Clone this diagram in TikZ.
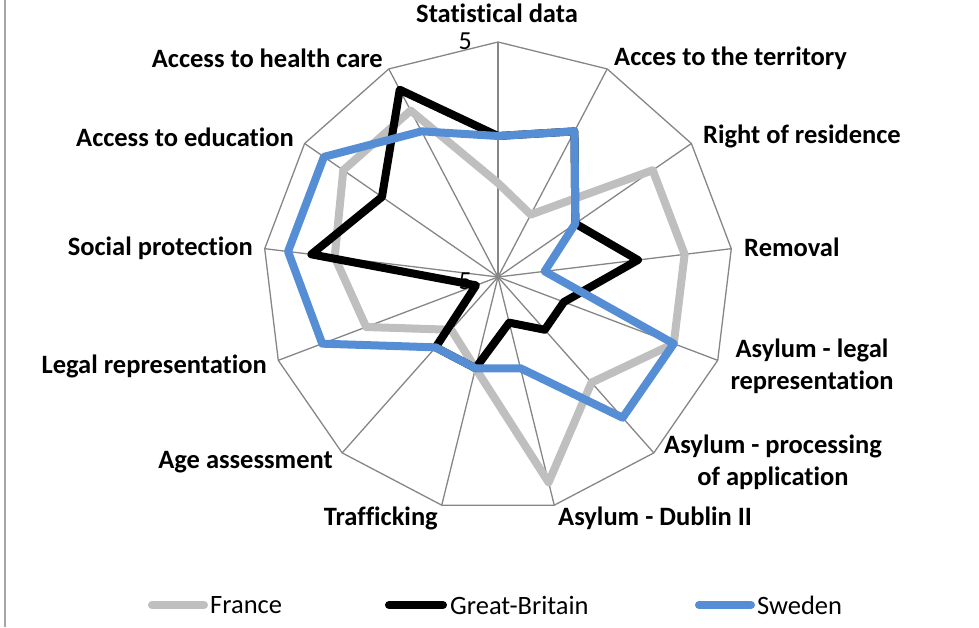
\documentclass[tikz,border=0pt]{standalone}
\usepackage{fontspec}
\setmainfont{Carlito}[Ligatures=NoCommon]
\definecolor{gridgray}{RGB}{134,134,134}
\definecolor{framegray}{RGB}{166,166,166}
\definecolor{frgray}{RGB}{191,191,191}
\definecolor{seblue}{RGB}{85,142,213}
\tikzset{
  spoke/.style={draw=gridgray, line width=1.3},
  series/.style={line width=8, line join=round},
  france/.style={series, draw=frgray},
  britain/.style={series, draw=black},
  sweden/.style={series, draw=seblue},
  keyline/.style={line width=8, line cap=round},
  catlabel/.style={font=\fontsize{26.5}{32}\selectfont\bfseries, inner sep=0pt},
  keytext/.style={font=\fontsize{26.5}{30}\selectfont, inner sep=0pt, anchor=west},
  ticklabel/.style={font=\fontsize{26}{30}\selectfont, inner sep=0pt, anchor=east}
}
\begin{document}
\begin{tikzpicture}[x=1pt,y=1pt]
  \useasboundingbox (-498,-350) rectangle (481,277);
  \draw[framegray, line width=2] (-493,277) -- (-493,-350);

  % outer ring, value 5
  \coordinate (o0) at (90:235);
  \coordinate (o1) at (62.31:235);
  \coordinate (o2) at (34.62:235);
  \coordinate (o3) at (6.92:235);
  \coordinate (o4) at (-20.77:235);
  \coordinate (o5) at (-48.46:235);
  \coordinate (o6) at (-76.15:235);
  \coordinate (o7) at (-103.85:235);
  \coordinate (o8) at (-131.54:235);
  \coordinate (o9) at (-159.23:235);
  \coordinate (o10) at (173.08:235);
  \coordinate (o11) at (145.38:235);
  \coordinate (o12) at (117.69:235);
  \coordinate (c) at (0,0);

  \draw[spoke] (o0) -- (o1) -- (o2) -- (o3) -- (o4) -- (o5) -- (o6) -- (o7)
    -- (o8) -- (o9) -- (o10) -- (o11) -- (o12) -- cycle;
  \draw[spoke] (c) -- (o0);  \draw[spoke] (c) -- (o1);
  \draw[spoke] (c) -- (o2);  \draw[spoke] (c) -- (o3);
  \draw[spoke] (c) -- (o4);  \draw[spoke] (c) -- (o5);
  \draw[spoke] (c) -- (o6);  \draw[spoke] (c) -- (o7);
  \draw[spoke] (c) -- (o8);  \draw[spoke] (c) -- (o9);
  \draw[spoke] (c) -- (o10); \draw[spoke] (c) -- (o11);
  \draw[spoke] (c) -- (o12);

  \node[ticklabel] (top5) at (-26,236) {5};
  \node[ticklabel] (mid5) at (-26,-4) {-5};

  % series, radius = (value+5)*23.5
  \draw[france] (90:94) -- (62.31:70.5) -- (34.62:188) -- (6.92:188) -- (-20.77:188)
    -- (-48.46:141) -- (-76.15:211.5) -- (-103.85:94) -- (-131.54:70.5)
    -- (-159.23:141) -- (173.08:164.5) -- (145.38:188) -- (117.69:188) -- cycle;
  \draw[britain] (90:141) -- (62.31:164.5) -- (34.62:94) -- (6.92:141) -- (-20.77:70.5)
    -- (-48.46:70.5) -- (-76.15:47) -- (-103.85:94) -- (-131.54:94)
    -- (-159.23:23.5) -- (173.08:188) -- (145.38:141) -- (117.69:211.5) -- cycle;
  \draw[sweden] (90:141) -- (62.31:164.5) -- (34.62:94) -- (6.92:47) -- (-20.77:188)
    -- (-48.46:188) -- (-76.15:94) -- (-103.85:94) -- (-131.54:94)
    -- (-159.23:188) -- (173.08:211.5) -- (145.38:211.5) -- (117.69:164.5) -- cycle;

  % category labels
  \node[catlabel] (stat) at (-1,264) {Statistical data};
  \node[catlabel, anchor=west] (terr) at (116,219) {Acces to the territory};
  \node[catlabel, anchor=west] (resid) at (205,141) {Right of residence};
  \node[catlabel, anchor=west] (remov) at (246,30) {Removal};
  \node[catlabel, align=center] (alegal) at (314,-89) {Asylum - legal\\representation};
  \node[catlabel, align=center] (aproc) at (275,-185) {Asylum - processing\\of application};
  \node[catlabel, anchor=west] (dublin) at (60,-241) {Asylum - Dublin II};
  \node[catlabel, anchor=east] (traff) at (-60,-241) {Trafficking};
  \node[catlabel, anchor=east] (age) at (-165,-185) {Age assessment};
  \node[catlabel, anchor=east] (legal) at (-231,-89) {Legal representation};
  \node[catlabel, anchor=east] (social) at (-245,29) {Social protection};
  \node[catlabel, anchor=east] (educ) at (-204,140) {Access to education};
  \node[catlabel, anchor=east] (health) at (-115,219) {Access to health care};

  % legend
  \draw[keyline, frgray] (-346,-328) -- (-294,-328);
  \node[keytext] (kfr) at (-288,-328) {France};
  \draw[keyline, black] (-109,-328) -- (-55,-328);
  \node[keytext] (kgb) at (-48,-328) {Great-Britain};
  \draw[keyline, seblue] (201,-328) -- (253,-328);
  \node[keytext] (kse) at (259,-328) {Sweden};
\end{tikzpicture}
\end{document}
